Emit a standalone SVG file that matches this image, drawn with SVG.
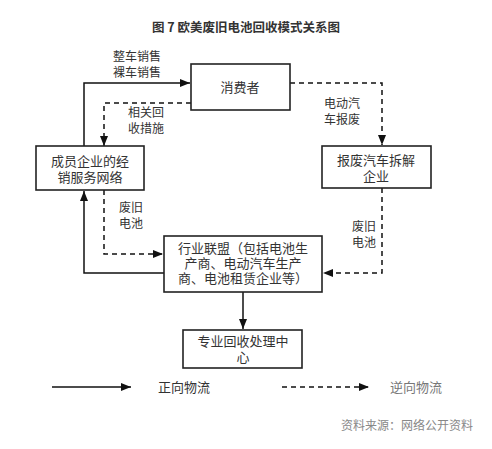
<svg xmlns="http://www.w3.org/2000/svg" width="492" height="449" viewBox="0 0 492 449">
<defs>
<marker id="ah" viewBox="0 0 10 8" refX="10" refY="4" markerWidth="10" markerHeight="8" markerUnits="userSpaceOnUse" orient="auto">
<path d="M0,0 L10,4 L0,8 Z" fill="#111"/>
</marker>
</defs>
<style>
.box{fill:#fff;stroke:#222;stroke-width:1.6}
.t{font-family:"Noto Sans CJK SC",sans-serif;font-size:13px;fill:#333;text-anchor:middle}
.l{font-family:"Noto Sans CJK SC",sans-serif;font-size:12px;fill:#333;text-anchor:middle}
.s{fill:none;stroke:#111;stroke-width:1.5}
.d{fill:none;stroke:#111;stroke-width:1.5;stroke-dasharray:5,4}
</style>
<rect width="492" height="449" fill="#fff"/>
<text x="246" y="32" style="font-family:'Noto Sans CJK SC',sans-serif;font-size:12.5px;font-weight:bold;fill:#333" text-anchor="middle">图 7 欧美废旧电池回收模式关系图</text>

<g id="connectors">
<path class="s" d="M84,146 V83 H190" marker-end="url(#ah)"/>
<path class="d" d="M191,103 H104 V146" marker-end="url(#ah)"/>
<path class="d" d="M290,83 H382 V145" marker-end="url(#ah)"/>
<path class="d" d="M382,188 V273 H323" marker-end="url(#ah)"/>
<path class="s" d="M164,273 H84 V191" marker-end="url(#ah)"/>
<path class="d" d="M104,190 V254 H163" marker-end="url(#ah)"/>
<path class="s" d="M243,292 V329" marker-end="url(#ah)"/>
<text class="l" x="137" y="61">整车销售</text>
<text class="l" x="137" y="77">裸车销售</text>
<text class="l" x="146" y="117">相关回</text>
<text class="l" x="146" y="133">收措施</text>
<text class="l" x="342" y="108">电动汽</text>
<text class="l" x="342" y="124">车报废</text>
<text class="l" x="131" y="212">废旧</text>
<text class="l" x="131" y="228">电池</text>
<text class="l" x="364" y="231">废旧</text>
<text class="l" x="364" y="247">电池</text>
</g>

<g id="consumer">
<rect class="box" x="191" y="64" width="99" height="46"/>
<text class="t" x="240" y="92">消费者</text>
</g>
<g id="member">
<rect class="box" x="36" y="146" width="108" height="44"/>
<text class="t" x="90" y="166">成员企业的经</text>
<text class="t" x="90" y="182">销服务网络</text>
</g>
<g id="scrap">
<rect class="box" x="322" y="146" width="109" height="42"/>
<text class="t" x="376" y="165">报废汽车拆解</text>
<text class="t" x="376" y="181">企业</text>
</g>
<g id="alliance">
<rect class="box" x="164" y="236" width="158" height="56"/>
<text class="t" x="243" y="253">行业联盟（包括电池生</text>
<text class="t" x="243" y="268">产商、电动汽车生产</text>
<text class="t" x="243" y="283">商、电池租赁企业等）</text>
</g>
<g id="center">
<rect class="box" x="183" y="330" width="119" height="38"/>
<text class="t" x="243" y="346">专业回收处理中</text>
<text class="t" x="243" y="362">心</text>
</g>
<g id="legend">
<path class="s" d="M52,387 H131" marker-end="url(#ah)"/>
<text class="t" x="184" y="392">正向物流</text>
<path class="d" d="M282,387 H369" marker-end="url(#ah)"/>
<text class="t" x="416" y="392" style="fill:#777">逆向物流</text>
</g>
<text x="473" y="430" style="font-family:'Noto Sans CJK SC',sans-serif;font-size:12px;fill:#888" text-anchor="end">资料来源：网络公开资料</text>
</svg>
